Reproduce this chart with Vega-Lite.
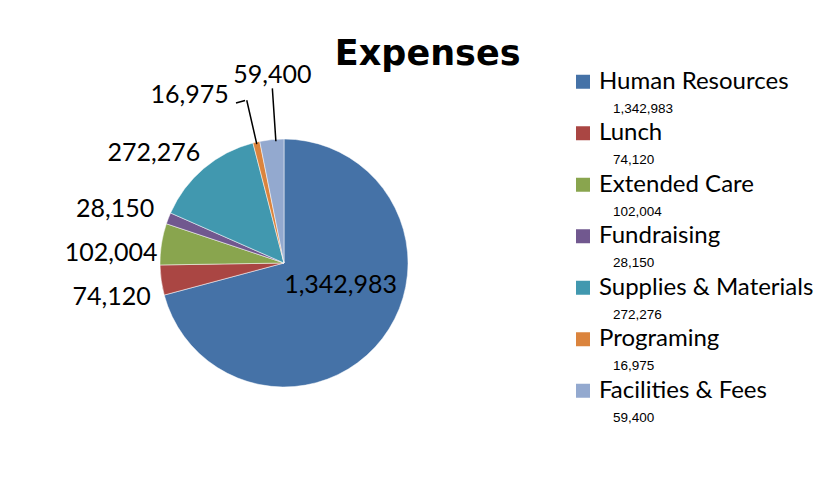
{
  "$schema": "https://vega.github.io/schema/vega-lite/v6.json",
  "padding": {"left": 10, "top": 37, "right": 0, "bottom": 0},
  "background": "white",
  "config": {"view": {"stroke": null}},
  "title": {"text": "Expenses", "font": "DejaVu Sans", "fontWeight": "bold", "fontSize": 35, "anchor": "middle", "offset": -16, "dx": 16, "color": "black"},
  "data": {"values": [
    {"category": "Human Resources", "value": 1342983},
    {"category": "Lunch", "value": 74120},
    {"category": "Extended Care", "value": 102004},
    {"category": "Fundraising", "value": 28150},
    {"category": "Supplies & Materials", "value": 272276},
    {"category": "Programing", "value": 16975},
    {"category": "Facilities & Fees", "value": 59400}
  ]},
  "hconcat": [
    {
      "width": 548,
      "height": 414,
      "transform": [{"window": [{"op": "row_number", "as": "idx"}]}],
      "encoding": {
        "theta": {"field": "value", "type": "quantitative", "stack": true},
        "order": {"field": "idx", "type": "quantitative"},
        "detail": {"field": "category", "type": "nominal"}
      },
      "layer": [
        {
          "mark": {"type": "arc", "outerRadius": 124, "stroke": "white", "strokeWidth": 0.5},
          "encoding": {
            "color": {"field": "category", "type": "nominal", "legend": null,
              "scale": {"domain": ["Human Resources", "Lunch", "Extended Care", "Fundraising", "Supplies & Materials", "Programing", "Facilities & Fees"],
                        "range": ["#4572A7", "#AA4643", "#89A54E", "#71588F", "#4198AF", "#DB843D", "#93A9CF"]}}
          }
        },
        {
          "mark": {"type": "arc", "filled": false, "stroke": "black", "strokeWidth": 1.5, "innerRadius": 122, "outerRadius": 175, "padAngle": 1.5, "thetaOffset": 0.0318},
          "encoding": {"strokeOpacity": {"condition": {"test": "datum.category === 'Facilities & Fees'", "value": 1}, "value": 0}}
        },
        {
          "mark": {"type": "arc", "filled": false, "stroke": "black", "strokeWidth": 1.5, "innerRadius": 122, "outerRadius": 167, "padAngle": 1.5},
          "encoding": {"strokeOpacity": {"condition": {"test": "datum.category === 'Programing'", "value": 1}, "value": 0}}
        },
        {
          "mark": {"type": "arc", "filled": false, "stroke": "black", "strokeWidth": 1.5, "innerRadius": 167, "outerRadius": 167, "thetaOffset": -0.0384},
          "encoding": {"strokeOpacity": {"condition": {"test": "datum.category === 'Programing'", "value": 1}, "value": 0}}
        },
        {
          "mark": {"type": "text", "radius": 36, "dx": 28, "font": "Lato", "fontSize": 25, "color": "black"},
          "encoding": {"text": {"condition": {"test": "datum.category === 'Human Resources'", "field": "value", "type": "quantitative", "format": ","}, "value": ""}}
        },
        {
          "mark": {"type": "text", "radius": 174, "dy": 10, "font": "Lato", "fontSize": 25, "color": "black"},
          "encoding": {"text": {"condition": {"test": "datum.category === 'Lunch'", "field": "value", "type": "quantitative", "format": ","}, "value": ""}}
        },
        {
          "mark": {"type": "text", "radius": 175, "dy": 17, "font": "Lato", "fontSize": 25, "color": "black"},
          "encoding": {"text": {"condition": {"test": "datum.category === 'Extended Care'", "field": "value", "type": "quantitative", "format": ","}, "value": ""}}
        },
        {
          "mark": {"type": "text", "radius": 181, "dy": 11, "font": "Lato", "fontSize": 25, "color": "black"},
          "encoding": {"text": {"condition": {"test": "datum.category === 'Fundraising'", "field": "value", "type": "quantitative", "format": ","}, "value": ""}}
        },
        {
          "mark": {"type": "text", "radius": 170, "dx": -20, "dy": 20, "font": "Lato", "fontSize": 25, "color": "black"},
          "encoding": {"text": {"condition": {"test": "datum.category === 'Supplies & Materials'", "field": "value", "type": "quantitative", "format": ","}, "value": ""}}
        },
        {
          "mark": {"type": "text", "radius": 172, "dx": -56, "font": "Lato", "fontSize": 25, "color": "black"},
          "encoding": {"text": {"condition": {"test": "datum.category === 'Programing'", "field": "value", "type": "quantitative", "format": ","}, "value": ""}}
        },
        {
          "mark": {"type": "text", "radius": 189, "dx": 7, "font": "Lato", "fontSize": 25, "color": "black"},
          "encoding": {"text": {"condition": {"test": "datum.category === 'Facilities & Fees'", "field": "value", "type": "quantitative", "format": ","}, "value": ""}}
        }
      ]
    },
    {
      "width": 14,
      "height": 360.5,
      "encoding": {"y": {"field": "category", "type": "nominal", "sort": null, "axis": null}},
      "layer": [
        {
          "mark": {"type": "square", "size": 196, "opacity": 1},
          "encoding": {
            "color": {"field": "category", "type": "nominal", "legend": null,
              "scale": {"domain": ["Human Resources", "Lunch", "Extended Care", "Fundraising", "Supplies & Materials", "Programing", "Facilities & Fees"],
                        "range": ["#4572A7", "#AA4643", "#89A54E", "#71588F", "#4198AF", "#DB843D", "#93A9CF"]}}
          }
        },
        {
          "mark": {"type": "text", "align": "left", "dx": 16, "font": "Lato", "fontSize": 24, "color": "black"},
          "encoding": {"text": {"field": "category", "type": "nominal"}}
        },
        {
          "mark": {"type": "text", "align": "left", "dx": 30, "dy": 27, "font": "Liberation Sans", "fontSize": 13.5, "color": "black"},
          "encoding": {"text": {"field": "value", "type": "quantitative", "format": ","}}
        }
      ]
    }
  ],
  "spacing": 18
}
